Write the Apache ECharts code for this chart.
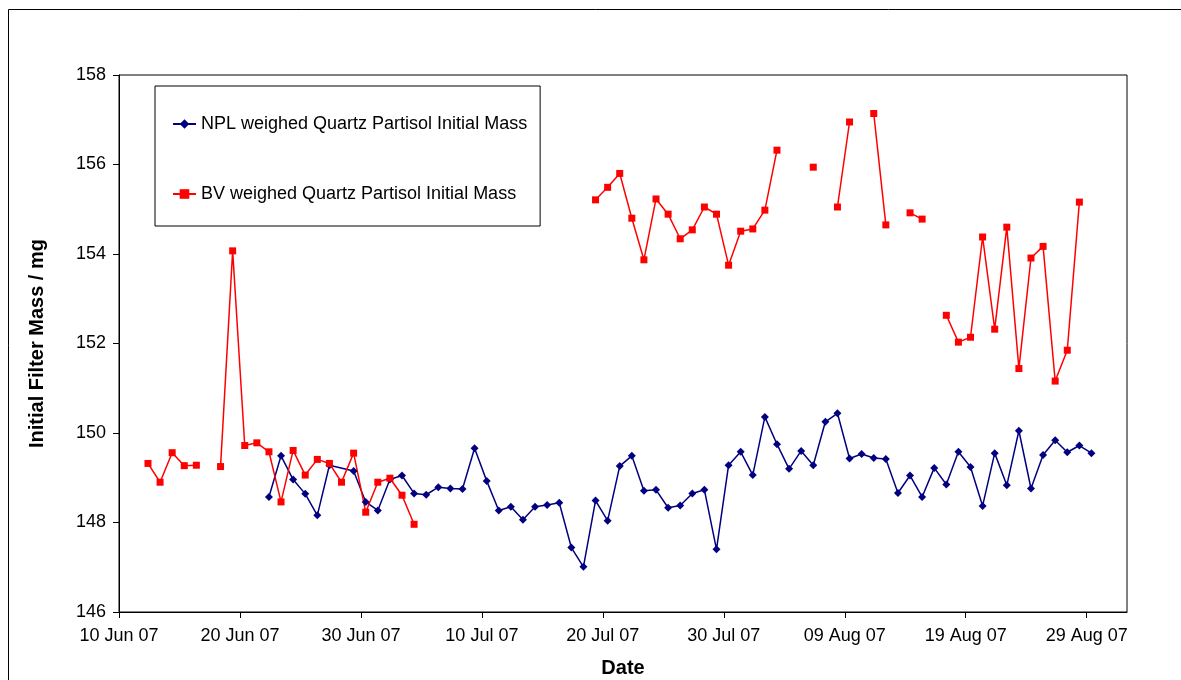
<!DOCTYPE html>
<html>
<head>
<meta charset="utf-8">
<title>Initial Filter Mass</title>
<script src="https://cdn.jsdelivr.net/npm/echarts@6.0.0/dist/echarts.min.js"></script>
<style>
  html, body { margin: 0; padding: 0; background: #fff; }
  #chart { width: 1181px; height: 680px; }
</style>
</head>
<body>
<div id="chart"></div>
<script>
// sampling days, one row per day (12 Jun 07 .. 29 Aug 07)
const sampleDates = [
  '2007-06-12', '2007-06-13', '2007-06-14', '2007-06-15', '2007-06-16', '2007-06-17', '2007-06-18',
  '2007-06-19', '2007-06-20', '2007-06-21', '2007-06-22', '2007-06-23', '2007-06-24', '2007-06-25',
  '2007-06-26', '2007-06-27', '2007-06-28', '2007-06-29', '2007-06-30',
  '2007-07-01', '2007-07-02', '2007-07-03', '2007-07-04', '2007-07-05', '2007-07-06', '2007-07-07',
  '2007-07-08', '2007-07-09', '2007-07-10', '2007-07-11', '2007-07-12', '2007-07-13', '2007-07-14',
  '2007-07-15', '2007-07-16', '2007-07-17', '2007-07-18', '2007-07-19', '2007-07-20', '2007-07-21',
  '2007-07-22', '2007-07-23', '2007-07-24', '2007-07-25', '2007-07-26', '2007-07-27', '2007-07-28',
  '2007-07-29', '2007-07-30', '2007-07-31',
  '2007-08-01', '2007-08-02', '2007-08-03', '2007-08-04', '2007-08-05', '2007-08-06', '2007-08-07',
  '2007-08-08', '2007-08-09', '2007-08-10', '2007-08-11', '2007-08-12', '2007-08-13', '2007-08-14',
  '2007-08-15', '2007-08-16', '2007-08-17', '2007-08-18', '2007-08-19', '2007-08-20', '2007-08-21',
  '2007-08-22', '2007-08-23', '2007-08-24', '2007-08-25', '2007-08-26', '2007-08-27', '2007-08-28',
  '2007-08-29',
]
// filters are logged mid-morning
const sampleTime = '09:30'

// NPL weighed, mg (null = no filter that day)
const nplMass = [
  null, null, null, null, null, null, null, null, null, null,
  148.57, 149.49, 148.96, 148.64, 148.16, 149.28, null, 149.15, 148.46,
  148.27, 148.96, 149.05, 148.65, 148.62, 148.79, 148.76, 148.75, 149.66, 148.93,
  148.27, 148.35, 148.06, 148.35, 148.39, 148.44, 147.44, 147.01, 148.49, 148.04,
  149.26, 149.49, 148.71, 148.73, 148.33, 148.38, 148.65, 148.73, 147.40, 149.28,
  149.58,
  149.06, 150.36, 149.75, 149.20, 149.60, 149.28, 150.25, 150.44, 149.43, 149.53,
  149.44, 149.42, 148.66, 149.05, 148.57, 149.22, 148.85, 149.58, 149.24, 148.37,
  149.55, 148.83, 150.05, 148.76, 149.51, 149.84, 149.57, 149.72, 149.55,
]

// BV weighed, mg
const bvMass = [
  149.32, 148.90, 149.56, 149.27, 149.28, null, 149.25, 154.07, 149.72, 149.78,
  149.58, 148.46, 149.61, 149.06, 149.41, 149.32, 148.90, 149.55, 148.23,
  148.90, 148.99, 148.61, 147.96, null, null, null, null, null, null,
  null, null, null, null, null, null, null, null, 155.21, 155.49,
  155.80, 154.80, 153.87, 155.23, 154.89, 154.34, 154.54, 155.05, 154.89, 153.75,
  154.51,
  154.56, 154.98, 156.32, null, null, 155.94, null, 155.05, 156.95, null,
  157.14, 154.65, null, 154.92, 154.78, null, 152.63, 152.03, 152.14, 154.38,
  152.32, 154.60, 151.44, 153.91, 154.17, 151.16, 151.85, 155.16, null,
]

const axisStart = '2007-06-10'
const axisEnd = '2007-09-01T08:00'
const tickDates = [
  '2007-06-10', '2007-06-20', '2007-06-30', '2007-07-10', '2007-07-20',
  '2007-07-30', '2007-08-09', '2007-08-19', '2007-08-29',
]
const monthNames = ['Jan', 'Feb', 'Mar', 'Apr', 'May', 'Jun', 'Jul', 'Aug', 'Sep', 'Oct', 'Nov', 'Dec']

const DAY = 86400000
const t0 = Date.parse(axisStart + 'T00:00:00Z')
const toDay = (s) => (Date.parse((s.includes('T') ? s : s + 'T00:00') + ':00Z') - t0) / DAY

function fmtDate(dayNum) {
  const d = new Date(t0 + Math.round(dayNum) * DAY)
  const dd = String(d.getUTCDate()).padStart(2, '0')
  const yy = String(d.getUTCFullYear()).slice(2)
  return `${dd} ${monthNames[d.getUTCMonth()]} ${yy}`
}

const xs = sampleDates.map((s) => toDay(s + 'T' + sampleTime))
const tickDays = tickDates.map(toDay)

const FONT = '"Liberation Sans", Arial, sans-serif'

const chart = echarts.init(document.getElementById('chart'))
chart.setOption({
  animation: false,
  backgroundColor: '#fff',
  textStyle: { fontFamily: FONT, color: '#000' },
  graphic: [{
    type: 'rect',
    shape: { x: 8.5, y: 9.5, width: 1200, height: 700 },
    style: { fill: 'none', stroke: '#000', lineWidth: 1 },
    silent: true,
  }],
  grid: {
    left: 119, right: 54, top: 75, bottom: 68,
    outerBoundsMode: 'none',
    show: true, borderColor: '#000', borderWidth: 1,
  },
  legend: {
    orient: 'vertical',
    left: 155,
    top: 86,
    padding: [29, 13, 23, 17],
    itemGap: 52,
    itemWidth: 23,
    itemHeight: 12,
    borderColor: '#000',
    borderWidth: 1,
    backgroundColor: '#fff',
    textStyle: { fontFamily: FONT, fontSize: 18, color: '#000' },
    data: ['NPL weighed Quartz Partisol Initial Mass', 'BV weighed Quartz Partisol Initial Mass'],
  },
  xAxis: {
    type: 'value',
    min: 0,
    max: toDay(axisEnd),
    interval: 10,
    name: 'Date',
    nameLocation: 'middle',
    nameGap: 46,
    nameTextStyle: { fontFamily: FONT, fontSize: 20, fontWeight: 'bold', color: '#000' },
    axisLine: { onZero: false, lineStyle: { color: '#000', width: 1 } },
    axisTick: { length: 6, customValues: tickDays, lineStyle: { color: '#000' } },
    axisLabel: {
      customValues: tickDays,
      margin: 15,
      fontFamily: FONT,
      fontSize: 18,
      color: '#000',
      formatter: (v) => fmtDate(v),
    },
    splitLine: { show: false },
  },
  yAxis: {
    type: 'value',
    min: 146,
    max: 158,
    interval: 2,
    name: 'Initial Filter Mass / mg',
    nameLocation: 'middle',
    nameGap: 72,
    nameTextStyle: { fontFamily: FONT, fontSize: 20, fontWeight: 'bold', color: '#000' },
    axisLine: { show: true, lineStyle: { color: '#000', width: 1 } },
    axisTick: { show: true, length: 6, lineStyle: { color: '#000' } },
    axisLabel: { margin: 13, fontFamily: FONT, fontSize: 18, color: '#000' },
    splitLine: { show: false },
  },
  series: [
    {
      name: 'NPL weighed Quartz Partisol Initial Mass',
      type: 'line',
      data: xs.map((x, i) => [x, nplMass[i]]),
      connectNulls: true,
      symbol: 'diamond',
      symbolSize: 8,
      lineStyle: { color: '#000080', width: 1.5 },
      itemStyle: { color: '#000080' },
    },
    {
      name: 'BV weighed Quartz Partisol Initial Mass',
      type: 'line',
      data: xs.map((x, i) => [x, bvMass[i]]),
      connectNulls: false,
      symbol: 'rect',
      symbolSize: 7,
      lineStyle: { color: '#ff0000', width: 1.5 },
      itemStyle: { color: '#ff0000' },
    },
  ],
})
</script>
</body>
</html>
